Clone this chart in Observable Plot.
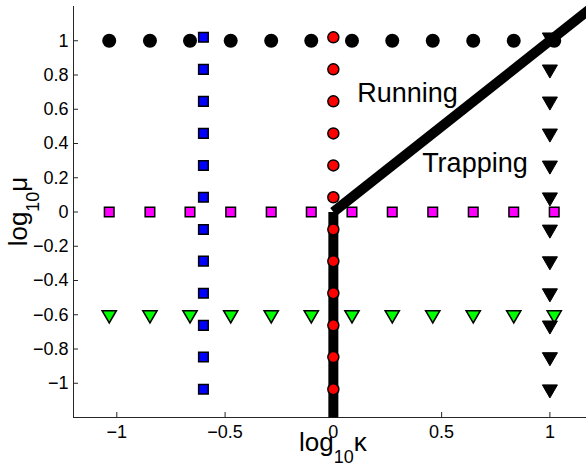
<!DOCTYPE html>
<html><head><meta charset="utf-8">
<script src="https://cdn.jsdelivr.net/npm/d3@7"></script>
<script src="https://cdn.jsdelivr.net/npm/@observablehq/plot@0.6"></script>
<style>
html,body{margin:0;padding:0;background:#fff;overflow:hidden;width:586px;height:466px}
#chart{width:586px;height:466px;overflow:hidden}
#chart svg{display:block;max-width:none}
</style></head><body><div id="chart"></div>
<script>
// shared sampling sequence (log10 values) used along each sweep
const sweep = [-1.035, -0.847, -0.662, -0.474, -0.287, -0.102, 0.086, 0.272, 0.459, 0.646, 0.833, 1.02];
// horizontal sweeps: fixed log10 mu
const blackCircleMu = 1;
const magentaSquareMu = 0;
const greenTriangleMu = -0.6;
// vertical sweeps: fixed log10 kappa
const blueSquareKappa = -0.6;
const redCircleKappa = 0;
const blackTriangleKappa = 1;
// phase boundary (thick line)
const boundaryVertKappa = [0, 0];
const boundaryVertMu = [-1.2, 0];
const boundaryDiagKappa = [0, 1.2];
const boundaryDiagMu = [0, 1.2];
// region labels
const regionLabels = ["Running", "Trapping"];
const regionKappa = [0.11, 0.41];
const regionMu = [0.645, 0.236];
// ticks
const xTicks = [-1, -0.5, 0, 0.5, 1];
const yTicks = [-1, -0.8, -0.6, -0.4, -0.2, 0, 0.2, 0.4, 0.6, 0.8, 1];

const horiz = (mu) => sweep.map(k => ({k, mu}));
const vert = (k) => sweep.map(mu => ({k, mu}));
const seg = (ks, ms) => ks.map((k, i) => ({k, mu: ms[i]}));
const fmt = d => String(d).replace("-", "\u2212");

const triangleDown = {
  draw(context, size) {
    const s3 = Math.sqrt(3);
    const y = Math.sqrt(size / (s3 * 3));
    context.moveTo(0, 2 * y);
    context.lineTo(-s3 * y, -y);
    context.lineTo(s3 * y, -y);
    context.closePath();
  }
};

const W = 600, H = 466, mL = 73, mR = 7.3, mT = 6, mB = 49;
const plotW = W - mL - mR, plotH = H - mT - mB;

const plot = Plot.plot({
  width: W, height: H,
  marginLeft: mL, marginRight: mR, marginTop: mT, marginBottom: mB,
  style: {fontFamily: "'Liberation Sans', Arial, sans-serif", fontSize: "18px", color: "#000", background: "#fff", overflow: "visible", maxWidth: "none"},
  x: {domain: [-1.2, 1.2], ticks: xTicks, tickFormat: fmt, tickSize: 0, tickPadding: 8, label: null},
  y: {domain: [-1.2, 1.2], ticks: yTicks, tickFormat: fmt, tickSize: 0, tickPadding: 5, label: null},
  marks: [
    Plot.ruleX([-1.2], {stroke: "#262626", strokeWidth: 1}),
    Plot.ruleY([-1.2], {stroke: "#262626", strokeWidth: 1}),
    Plot.tickX(xTicks, {stroke: "#262626", insetTop: plotH - 5}),
    Plot.tickY(yTicks, {stroke: "#262626", insetRight: plotW - 5}),
    Plot.line(seg(boundaryVertKappa, boundaryVertMu), {x: "k", y: "mu", stroke: "#000", strokeWidth: 10, strokeLinecap: "butt"}),
    Plot.line(seg(boundaryDiagKappa, boundaryDiagMu), {x: "k", y: "mu", stroke: "#000", strokeWidth: 10, strokeLinecap: "butt"}),
    Plot.dot(horiz(blackCircleMu), {x: "k", y: "mu", r: 7, fill: "#000", stroke: "none"}),
    Plot.dot(horiz(greenTriangleMu), {x: "k", y: "mu", r: 5.3, symbol: triangleDown, fill: "#00ff00", stroke: "#000", strokeWidth: 1.5}),
    Plot.dot(horiz(magentaSquareMu), {x: "k", y: "mu", r: 5.4, symbol: "square", fill: "#ff00ff", stroke: "#000", strokeWidth: 1.5}),
    Plot.dot(vert(blackTriangleKappa), {x: "k", y: "mu", r: 5.6, symbol: triangleDown, fill: "#000", stroke: "#000", strokeWidth: 1}),
    Plot.dot(vert(blueSquareKappa), {x: "k", y: "mu", r: 5.4, symbol: "square", fill: "#0000ff", stroke: "#000", strokeWidth: 1.5}),
    Plot.dot(vert(redCircleKappa), {x: "k", y: "mu", r: 5.5, fill: "#ff0000", stroke: "#000", strokeWidth: 1.5}),
    Plot.text(regionLabels, {x: (d, i) => regionKappa[i], y: (d, i) => regionMu[i], text: d => d, textAnchor: "start", lineAnchor: "bottom", fontSize: 27, fill: "#000"})
  ]
});

document.getElementById("chart").appendChild(plot);

// axis titles with subscripts
const svg = d3.select(plot);
const xr = plot.scale("x").range, yr = plot.scale("y").range;
const xc = (xr[0] + xr[1]) / 2, yc = (yr[0] + yr[1]) / 2;
const xl = svg.append("text").attr("x", xc).attr("y", 451).attr("text-anchor", "middle")
  .style("font-size", "26px").attr("fill", "#000");
xl.append("tspan").text("log");
xl.append("tspan").attr("dy", 12).style("font-size", "18px").text("10");
xl.append("tspan").attr("dy", -12).text("κ");
const yl = svg.append("text").attr("transform", `translate(27,${yc}) rotate(-90)`).attr("text-anchor", "middle")
  .style("font-size", "26px").attr("fill", "#000");
yl.append("tspan").text("log");
yl.append("tspan").attr("dy", 12).style("font-size", "18px").text("10");
yl.append("tspan").attr("dy", -12).text("μ");
</script>
</body></html>
